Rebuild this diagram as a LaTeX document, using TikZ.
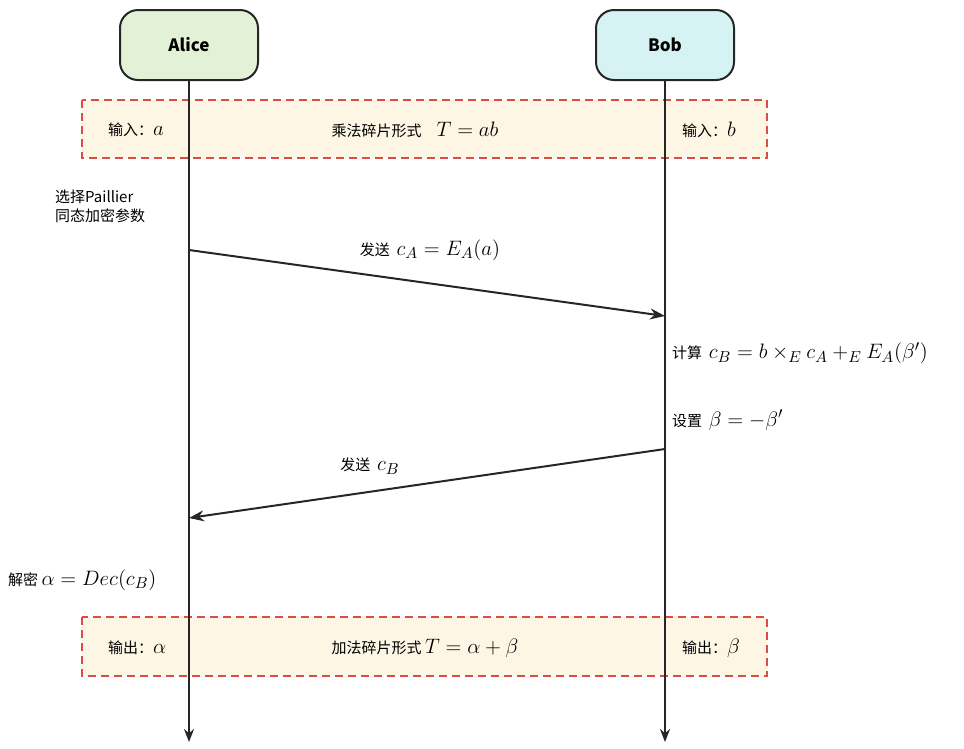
\documentclass[tikz,border=0pt]{standalone}
\usepackage{fontspec}
\usepackage{graphicx}
\setmainfont{Liberation Sans}
\newfontfamily\cjk{Noto Sans CJK SC}
\usetikzlibrary{arrows.meta}
\newcommand{\mth}[1]{\scalebox{1.45}{$#1$}}
\definecolor{alicec}{HTML}{E3F2D6}
\definecolor{bobc}{HTML}{D6F2F2}
\definecolor{boxfill}{HTML}{FDF6E4}
\definecolor{boxred}{HTML}{DD4B45}
\tikzset{
  actor/.style={draw=black!85, line width=2pt, rounded corners=18pt, minimum width=138pt, minimum height=70pt, font=\cjk\fontsize{17}{20}\selectfont\bfseries},
  frame/.style={draw=boxred, line width=2pt, fill=boxfill, dash pattern=on 8pt off 5pt},
  life/.style={line width=2pt, black!85, -{Stealth[length=13pt,width=10pt]}},
  msg/.style={line width=2pt, black!85, -{Stealth[length=15pt,width=11pt]}},
  lbl/.style={font=\cjk\fontsize{15}{19}\selectfont, inner sep=0pt}
}
\begin{document}
\begin{tikzpicture}[x=1pt,y=-1pt]
\useasboundingbox (0,0) rectangle (964,748);
\draw[frame] (82,100) rectangle (767,158);
\draw[frame] (82,617) rectangle (767,676);
\node[actor, fill=alicec] (alice) at (189,45) {Alice};
\node[actor, fill=bobc] (bob) at (665,45) {Bob};
\coordinate (aend) at (189,742);
\coordinate (bend) at (665,742);
\draw[life] (alice.south) -- (aend);
\draw[life] (bob.south) -- (bend);
\node[lbl, anchor=west] (in1) at (108,130) {输入：\mth{a}};
\node[lbl] (mul) at (415,130) {乘法碎片形式\quad \mth{T=ab}};
\node[lbl, anchor=west] (in2) at (682,130) {输入：\mth{b}};
\node[lbl, anchor=west] (out1) at (108,648) {输出：\mth{\alpha}};
\node[lbl] (add) at (425,648) {加法碎片形式 \mth{T=\alpha+\beta}};
\node[lbl, anchor=west] (out2) at (682,648) {输出：\mth{\beta}};
\node[lbl, anchor=north west, align=left] (sel) at (55,190) {选择Paillier\\同态加密参数};
\coordinate (m1s) at (189,250);
\coordinate (m1e) at (665,316);
\draw[msg] (m1s) -- (m1e);
\node[lbl] (l1) at (430,250) {发送\ \ \mth{c_A=E_A(a)}};
\node[lbl, anchor=west] (calc) at (672,353) {计算\ \ \mth{c_B=b\times_E c_A+_E E_A(\beta')}};
\node[lbl, anchor=west] (setb) at (672,420) {设置\ \ \mth{\beta=-\beta'}};
\coordinate (m2s) at (665,449);
\coordinate (m2e) at (189,518);
\draw[msg] (m2s) -- (m2e);
\node[lbl] (l2) at (370,466) {发送\ \ \mth{c_B}};
\node[lbl, anchor=west] (dec) at (8,580) {解密\ \mth{\alpha=Dec(c_B)}};
\end{tikzpicture}
\end{document}
